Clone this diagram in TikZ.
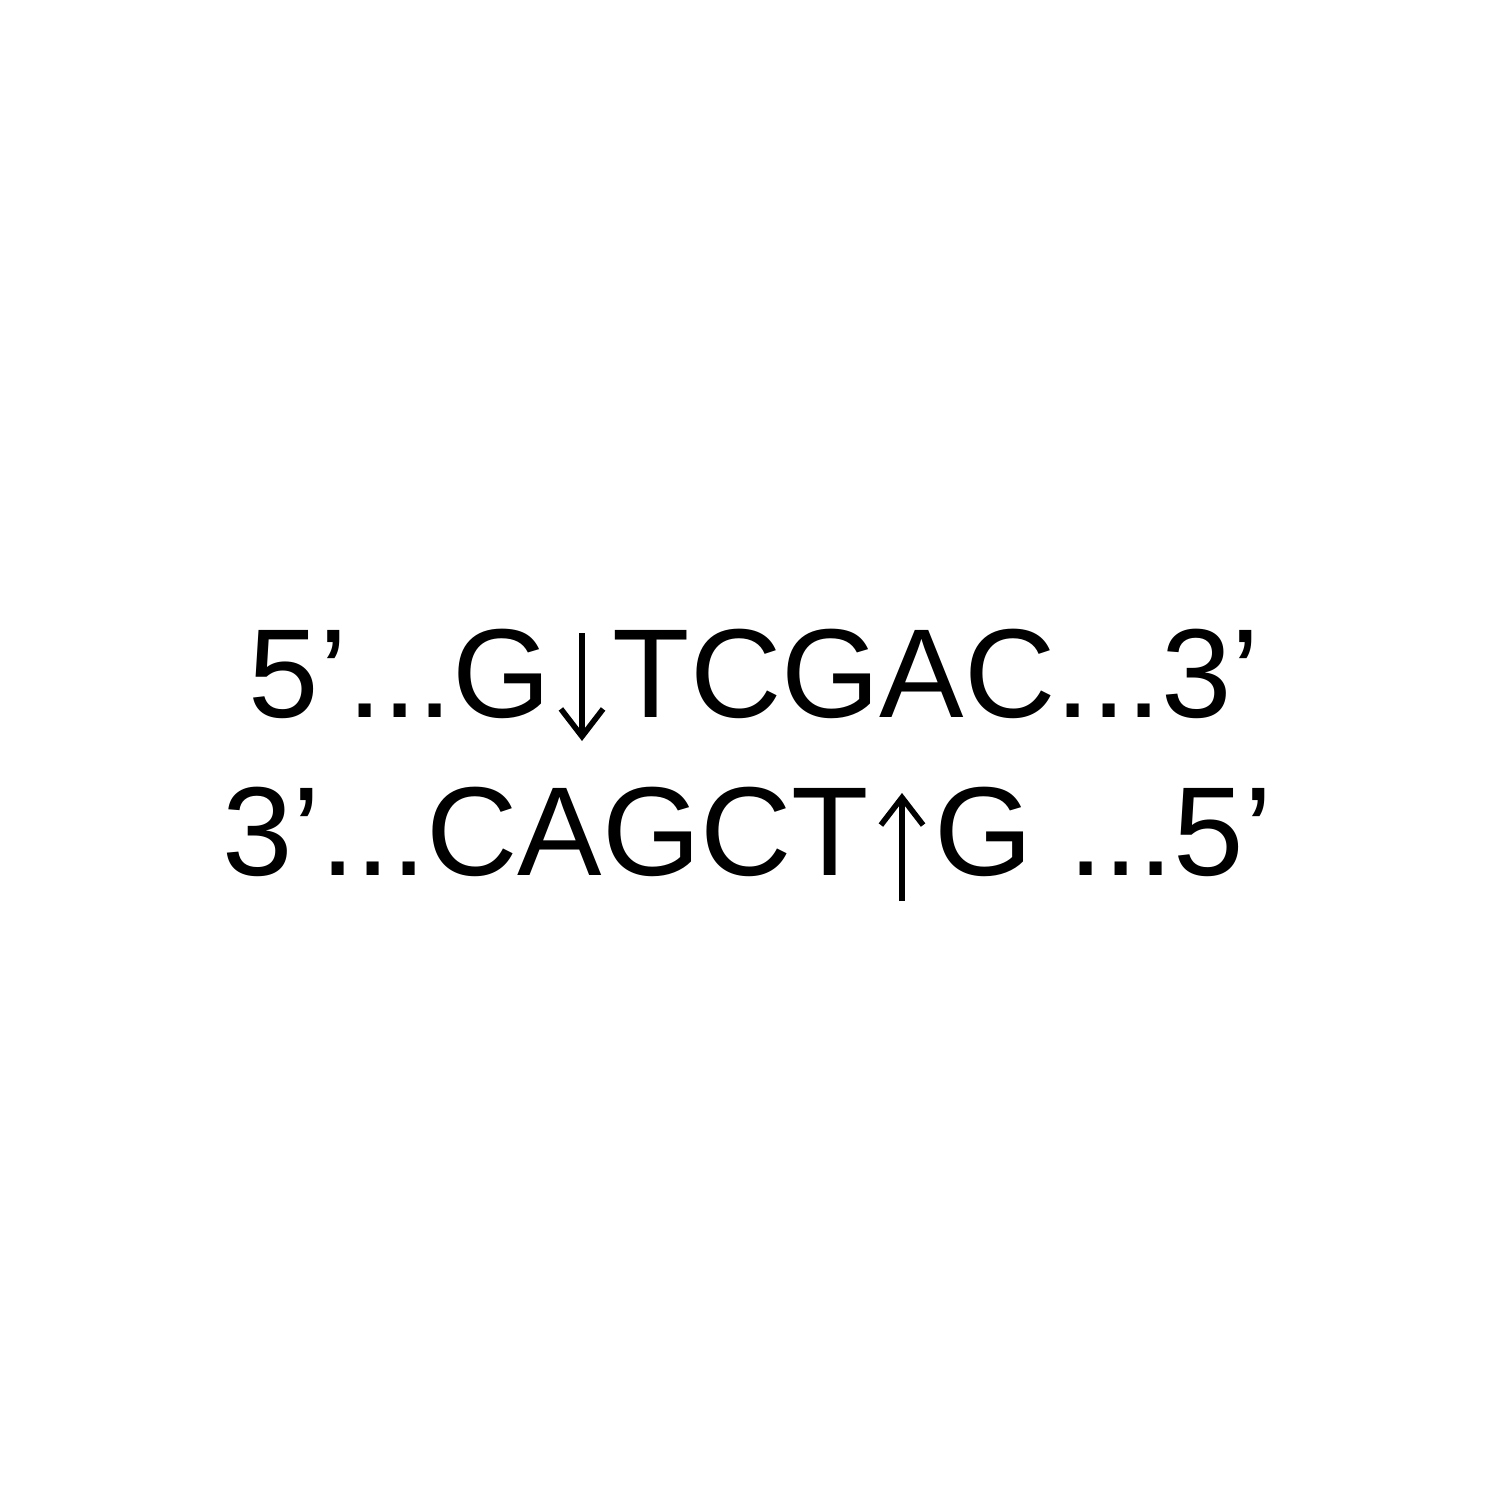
\documentclass[tikz,border=0pt]{standalone}
\usepackage{fontspec}
\setmainfont{Liberation Sans}
\usetikzlibrary{arrows.meta}
\begin{document}
\begin{tikzpicture}[x=0.01cm,y=-0.01cm,
  seq/.style={inner sep=0pt,font=\fontsize{36}{43}\selectfont},
  cut/.style={line width=1.45pt,-{Straight Barb[length=7.8pt,width=12pt,line width=1.6pt]}}]
\useasboundingbox[fill=white] (0,0) rectangle (1500,1500);
\node[seq,anchor=base west] (a1) at (248,717) {5’...G};
\node[seq,anchor=base west] (a2) at (612,717) {TCGAC...3’};
\node[seq,anchor=base east] (b1) at (870,875) {3’...CAGCT};
\node[seq,anchor=base west] (b2) at (934,875) {G ...5’};
\coordinate (d1) at (582,633);
\coordinate (d2) at (582,741);
\coordinate (u1) at (902,901);
\coordinate (u2) at (902,793);
\draw[cut] (d1) -- (d2);
\draw[cut] (u1) -- (u2);
\end{tikzpicture}
\end{document}
